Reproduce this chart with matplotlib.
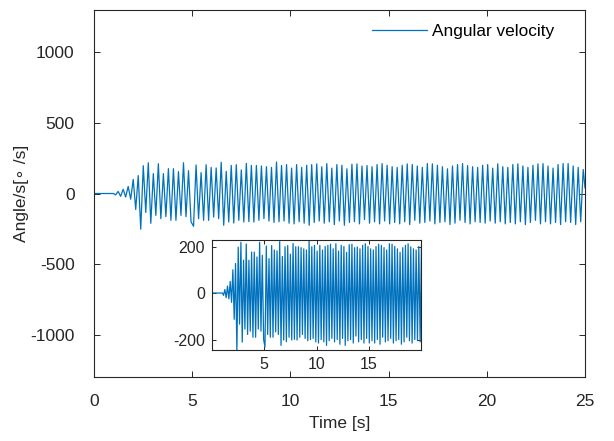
import numpy as np
import matplotlib
matplotlib.use("Agg")
import matplotlib.pyplot as plt

plt.rcParams['font.family'] = ['Liberation Sans', 'DejaVu Sans']
plt.rcParams['axes.unicode_minus'] = False

# ---- data ----
lead_time = [0.0, 1.0]          # flat start
lead_value = [0.0, 0.0]
first_extremum_time = 1.10      # s
half_period = 0.128             # s between successive extrema

extrema = [
    -10, 15, -20, 30, -25, 50, -40, 100, -113, 127, -253, 197, -134, 218, -211, 141, -155, 211,
    -178, 141, -164, 176, -190, 176, -190, 155, -155, 218, -164, 162, -200,
    -232, 202, -178, 148, -190, 204, -190, 185, -167, 181, -178, 221, -225, 157, -202, 199, -209, 204, -190, 167,
    -202, 213, -199, 199, -202, 199, -190, 195, -178, 190, -195, 185, -205, 223, -200, 199, -195, 205, -210, 180,
    -215, 205, -200, 185, -210, 200, -225, 205, -205, 210, -195, 190, -210, 212, -200, 180, -220, 205, -195, 200,
    -225, 175, -205, 208, -200, 210, -215, 195, -185, 198, -210, 190, -200, 205, -215, 212, -195, 200, -215, 190,
    -205, 185, -215, 200, -200, 210, -220, 205, -190, 195, -210, 185, -205, 212, -195, 210, -215, 200, -205, 190,
    -200, 175, -220, 195, -210, 205, -190, 212, -205, 198, -215, 190, -200, 185, -205, 200, -210, 205, -195, 180,
    -210, 210, -200, 190, -215, 185, -205, 205, -215, 210, -200, 195, -220, 185, -205, 200, -190, 210, -215, 212,
    -200, 195, -215, 180, -205, 205, -220, 212, -200, 212, -205, 195, -220, 185, -200, 170,
]
end_time = 25.0
end_value = 40.0

main_xticks = [0, 5, 10, 15, 20, 25]
main_yticks = [-1000, -500, 0, 500, 1000]
inset_xticks = [5, 10, 15]
inset_yticks = [-200, 0, 200]

# ---- build series ----
ext_t = first_extremum_time + half_period * np.arange(len(extrema))
t = np.concatenate([lead_time, ext_t, [end_time]])
w = np.concatenate([lead_value, extrema, [end_value]])

color = '#0072BD'
axc = '#262626'

fig = plt.figure(figsize=(6.14, 4.41), dpi=100)
ax = fig.add_axes([0.1531, 0.1451, 0.7997, 0.8322])
ax.plot(t, w, color=color, lw=0.9, label='Angular velocity')
ax.set_xlim(0, 25)
ax.set_ylim(-1300, 1300)
ax.set_xticks(main_xticks)
ax.set_yticks(main_yticks)
ax.tick_params(direction='in', length=4, width=0.7, colors=axc, labelsize=12.5,
               top=True, right=True)
ax.tick_params(axis='x', pad=12)
ax.tick_params(axis='y', pad=14)
for s in ax.spines.values():
    s.set_color(axc)
    s.set_linewidth(0.8)
ax.set_xlabel('Time [s]', fontsize=12.5, color=axc, labelpad=5)
ax.set_ylabel('Angle/s[∘ /s]', fontsize=12.5, color=axc, labelpad=1)
leg = ax.legend(loc='upper left', bbox_to_anchor=(0.566, 0.962), frameon=False,
                fontsize=12.4, handlelength=3.2, borderaxespad=0, borderpad=0,
                handletextpad=0.3)
for txt in leg.get_texts():
    txt.set_color('black')

ins = fig.add_axes([0.3453, 0.2063, 0.3404, 0.2495])
ins.plot(t, w, color=color, lw=0.9)
ins.set_xlim(0, 20)
ins.set_ylim(-245, 228)
ins.set_xticks(inset_xticks)
ins.set_yticks(inset_yticks)
ins.tick_params(direction='in', length=3, width=0.7, colors=axc, labelsize=11.5,
                top=True, right=True, pad=5)
for s in ins.spines.values():
    s.set_color(axc)
    s.set_linewidth(0.8)

fig.savefig('out.png', dpi=100)
